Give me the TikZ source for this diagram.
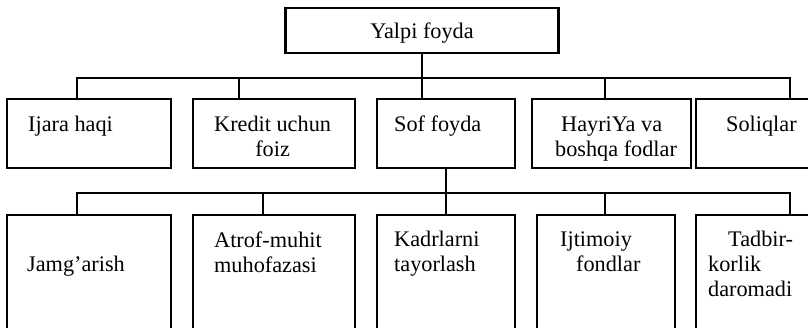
\documentclass[tikz,border=0pt]{standalone}
\usepackage{fontspec}
\setmainfont{Liberation Serif}
\usepackage{tikz}
\usetikzlibrary{
    positioning,
    calc
}
\newcommand{\lblfont}{\fontsize{19}{21.5}\selectfont}
\tikzset{
  box/.style    = {draw, line width=1.8pt, rectangle, inner sep=0pt},
  lbl/.style    = {anchor=north west, inner sep=0pt, align=left, font=\lblfont},
  conn/.style   = {line width=1.8pt}
}

\begin{document}
\begin{tikzpicture}[x=0.03cm,y=-0.03cm]
\useasboundingbox (0,0) rectangle (808,327);
\clip (0,0) rectangle (808,327);
% top box
\node[box,minimum width=8.19cm,minimum height=1.35cm,font=\lblfont,text height=0.59cm,text depth=0.14cm] (T) at (422,30.5) {Yalpi foyda};
% first row
\node[box,minimum width=4.92cm,minimum height=2.07cm] (b1) at (89,133.5) {};
\node[box,minimum width=4.86cm,minimum height=2.07cm] (b2) at (274,133.5) {};
\node[box,minimum width=4.14cm,minimum height=2.07cm] (b3) at (446,133.5) {};
\node[box,minimum width=4.77cm,minimum height=2.07cm] (b4) at (611.5,133.5) {};
\node[box,minimum width=3.72cm,minimum height=2.07cm] (b5) at (758,133.5) {};
\node[lbl] (t1) at ($(b1.north west)+(22,15.4)$) {\strut Ijara haqi};
\node[lbl,align=center] (t2) at ($(b2.north west)+(22,15.4)$) {\strut Kredit uchun\\foiz};
\node[lbl] (t3) at ($(b3.north west)+(18,15.4)$) {\strut Sof foyda};
\node[lbl] (t4) at ($(b4.north west)+(24,15.4)$) {\strut\hspace*{0.18cm}HayriYa va\\boshqa fodlar};
\node[lbl] (t5) at ($(b5.north west)+(31,15.4)$) {\strut Soliqlar};
% second row
\node[box,minimum width=4.92cm,minimum height=3.9cm] (c1) at (89,280) {};
\node[box,minimum width=4.86cm,minimum height=3.9cm] (c2) at (274,280) {};
\node[box,minimum width=4.14cm,minimum height=3.9cm] (c3) at (446,280) {};
\node[box,minimum width=4.14cm,minimum height=3.9cm] (c4) at (606,280) {};
\node[box,minimum width=3.72cm,minimum height=3.9cm] (c5) at (758,280) {};
\node[lbl] (u1) at ($(c1.north west)+(21,39.4)$) {\strut Jamg’arish};
\node[lbl] (u2) at ($(c2.north west)+(22,15.4)$) {\strut Atrof-muhit\\muhofazasi};
\node[lbl] (u3) at ($(c3.north west)+(18,14.4)$) {\strut Kadrlarni\\tayorlash};
\node[lbl] (u4) at ($(c4.north west)+(24,14.4)$) {\strut Ijtimoiy\\\hspace*{0.48cm}fondlar};
\node[lbl] (u5) at ($(c5.north west)+(13,14.4)$) {\strut\hspace*{0.6cm}Tadbir-\\korlik\\daromadi};
% connectors
\coordinate (bus1) at ($(T.south)+(0,24)$);
\coordinate (bus2) at ($(b3.south)+(0,24)$);
\draw[conn] (T.south) -- (T.south |- b3.north);
\draw[conn] ($(b1.north)+(-12,0)$) |- (bus1);
\draw[conn] ($(b2.north)+(-35,0)$) |- (bus1);
\draw[conn] ($(b4.north)+(-6.5,0)$) |- (bus1);
\draw[conn] ($(b5.north)+(32,0)$) |- (bus1);
\draw[conn] (b3.south) -- (c3.north);
\draw[conn] ($(c1.north)+(-12,0)$) |- (bus2);
\draw[conn] ($(c2.north)+(-11,0)$) |- (bus2);
\draw[conn] ($(c4.north)+(-1,0)$) |- (bus2);
\draw[conn] ($(c5.north)+(32,0)$) |- (bus2);
\end{tikzpicture}
\end{document}
